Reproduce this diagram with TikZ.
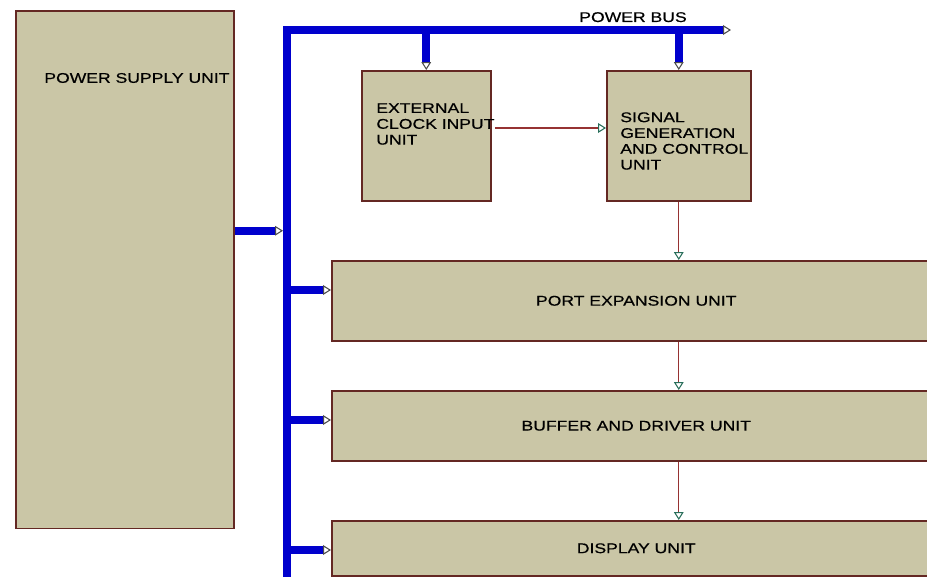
\documentclass[tikz,border=0pt]{standalone}
\usepackage{fontspec}
\setmainfont{Liberation Sans}[FakeStretch=1.25, FakeBold=0.6]
\usetikzlibrary{positioning,arrows.meta}

\definecolor{boxfill}{RGB}{202,198,166}
\definecolor{boxline}{RGB}{100,40,35}
\definecolor{busblue}{RGB}{0,0,205}
\definecolor{wirered}{RGB}{150,50,50}
\definecolor{pingreen}{RGB}{40,110,90}

\tikzset{
  unitbox/.style={draw=boxline, fill=boxfill, line width=0.9pt, inner sep=0pt, anchor=north west},
  unittext/.style={font=\fontsize{8}{9}\selectfont, align=left, inner sep=0pt},
  busline/.style={draw=busblue, line width=4.5pt},
  buspin/.style={busline, -{Triangle[open, fill=white, length=4.5pt, width=5.5pt, line width=0.6pt, color=black!70]}},
  wire/.style={draw=wirered, line width=0.6pt, -{Triangle[open, fill=white, length=4.5pt, width=5.5pt, line width=0.6pt, color=pingreen]}},
}

\begin{document}
\begin{tikzpicture}[x=0.02cm, y=-0.02cm]
        \clip (0,0) rectangle (927,577);
        % unit boxes
        \node[unitbox, minimum width=4.36cm, minimum height=10.36cm] (psu) at (15,10) {};
        \node[unitbox, minimum width=2.58cm, minimum height=2.6cm] (ext) at (361,70) {};
        \node[unitbox, minimum width=2.88cm, minimum height=2.6cm] (sig) at (606,70) {};
        \node[unitbox, minimum width=12.18cm, minimum height=1.6cm, font=\fontsize{8}{9}\selectfont] (port) at (331,260) {PORT EXPANSION UNIT};
        \node[unitbox, minimum width=12.18cm, minimum height=1.4cm, font=\fontsize{8}{9}\selectfont] (buf) at (331,390) {BUFFER AND DRIVER UNIT};
        \node[unitbox, minimum width=12.18cm, minimum height=1.1cm, font=\fontsize{8}{9}\selectfont] (disp) at (331,520) {DISPLAY UNIT};
        \node[unittext, anchor=west] (psutext) at (44,78) {POWER SUPPLY UNIT};
        \node[unittext, anchor=west] (exttext) at (376,124) {EXTERNAL\\CLOCK INPUT\\UNIT};
        \node[unittext, anchor=west] (sigtext) at (620,141) {SIGNAL\\GENERATION\\AND CONTROL\\UNIT};
        % power bus
        \coordinate (busbot) at (287,600);
        \coordinate (buscorner) at (287,30);
        \coordinate (busend) at (731,30);
        \node[unittext, anchor=base] (buslabel) at (633,22) {POWER BUS};
        \draw[buspin] (busbot) -- (buscorner) -- (busend);
        \draw[buspin] (ext.north |- buscorner) -- (ext.north);
        \draw[buspin] (sig.north |- buscorner) -- (sig.north);
        \coordinate (psuout) at ([yshift=0.78cm]psu.east);
        \coordinate (busin) at ([xshift=-0.08cm]psuout -| buscorner);
        \draw[buspin] (psuout) -- (busin);
        \foreach \u in {port,buf,disp} {
            \coordinate (\u-in) at ([yshift=-0.6cm]\u.north west);
            \draw[buspin] (buscorner |- \u-in) -- (\u-in);
        }
        % signal path
        \draw[wire] ([yshift=-0.08cm]exttext.east) -- ([yshift=-0.08cm]exttext.east -| sig.west);
        \draw[wire] (sig.south) -- (sig.south |- port.north);
        \draw[wire] (sig.south |- port.south) -- (sig.south |- buf.north);
        \draw[wire] (sig.south |- buf.south) -- (sig.south |- disp.north);
\end{tikzpicture}
\end{document}
